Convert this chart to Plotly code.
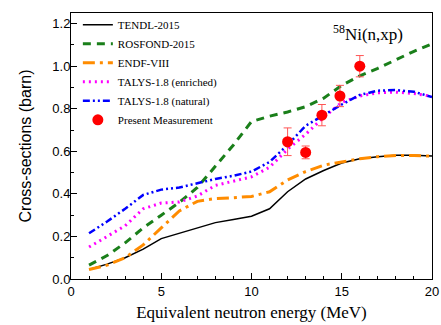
import plotly.graph_objects as go

energy = [1, 2, 3, 4, 5, 6, 7, 8, 9, 10, 11, 12, 13, 14, 15, 16, 17, 18, 19, 20]
tendl = [0.045, 0.07, 0.10, 0.14, 0.19, 0.215, 0.24, 0.265, 0.28, 0.295, 0.33, 0.41, 0.47, 0.51, 0.545, 0.565, 0.575, 0.582, 0.582, 0.578]
rosfond = [0.065, 0.11, 0.17, 0.24, 0.30, 0.36, 0.43, 0.53, 0.63, 0.74, 0.765, 0.785, 0.81, 0.85, 0.91, 0.955, 0.99, 1.03, 1.07, 1.105]
endf = [0.045, 0.065, 0.10, 0.16, 0.24, 0.32, 0.365, 0.378, 0.382, 0.388, 0.41, 0.465, 0.505, 0.535, 0.55, 0.565, 0.575, 0.58, 0.58, 0.577]
talys_enr = [0.15, 0.20, 0.25, 0.33, 0.357, 0.362, 0.39, 0.44, 0.46, 0.48, 0.525, 0.61, 0.68, 0.76, 0.83, 0.86, 0.875, 0.878, 0.872, 0.858]
talys_nat = [0.215, 0.27, 0.33, 0.395, 0.42, 0.43, 0.45, 0.47, 0.485, 0.505, 0.55, 0.63, 0.72, 0.77, 0.82, 0.865, 0.885, 0.888, 0.88, 0.855]

meas_e = [12.0, 13.0, 13.9, 14.9, 16.0]
meas_xs = [0.645, 0.595, 0.77, 0.86, 1.0]
meas_err = [0.065, 0.03, 0.05, 0.05, 0.05]

serif = "Liberation Serif"
sans = "Liberation Sans"

fig = go.Figure()
fig.add_trace(go.Scatter(x=energy, y=tendl, mode="lines", name="TENDL-2015",
                         line=dict(color="black", width=1.5)))
fig.add_trace(go.Scatter(x=energy, y=rosfond, mode="lines", name="ROSFOND-2015",
                         line=dict(color="#1a7f1a", width=3, dash="8px,6px")))
fig.add_trace(go.Scatter(x=energy, y=endf, mode="lines", name="ENDF-VIII",
                         line=dict(color="#ff8c00", width=3, dash="12px,5px,3px,5px")))
fig.add_trace(go.Scatter(x=energy, y=talys_enr, mode="lines", name="TALYS-1.8 (enriched)",
                         line=dict(color="#ff00ff", width=3, dash="2px,4px")))
fig.add_trace(go.Scatter(x=energy, y=talys_nat, mode="lines", name="TALYS-1.8 (natural)",
                         line=dict(color="#0000ff", width=2.5, dash="7px,3px,2px,3px,2px,3px")))
fig.add_trace(go.Scatter(x=meas_e, y=meas_xs, mode="markers", name="Present Measurement",
                         marker=dict(color="#ff0000", size=11),
                         error_y=dict(type="data", array=meas_err, color="#ff5555",
                                      thickness=1, width=4)))

fig.add_annotation(x=0.925, y=0.925, xref="paper", yref="paper", xanchor="right", yanchor="middle",
                   text="<sup>58</sup>Ni(n,xp)", showarrow=False,
                   font=dict(family=serif, size=17, color="black"))

axis_common = dict(showline=True, linecolor="black", linewidth=1, mirror=True,
                   ticks="inside", ticklen=6, tickcolor="black", showgrid=False,
                   zeroline=False, automargin=False,
                   tickfont=dict(family=sans, size=13, color="black"))

fig.update_layout(
    width=441, height=325,
    margin=dict(l=71, r=9, t=13, b=46),
    paper_bgcolor="white", plot_bgcolor="white",
    showlegend=True,
    legend=dict(x=0.019, y=1.01, xanchor="left", yanchor="top", bgcolor="rgba(0,0,0,0)",
                font=dict(family=serif, size=11, color="black"), tracegroupgap=0,
                itemwidth=30),
    xaxis=dict(range=[0, 20], tickvals=[0, 5, 10, 15, 20],
               minor=dict(ticks="inside", ticklen=3, tickcolor="black", dtick=1, showgrid=False),
               title=dict(text="Equivalent neutron energy (MeV)", standoff=8,
                          font=dict(family=serif, size=17, color="black")),
               **axis_common),
    yaxis=dict(range=[0, 1.25], tickvals=[0, 0.2, 0.4, 0.6, 0.8, 1.0, 1.2], tickformat=".1f",
               ticklabelstandoff=-3,
               minor=dict(ticks="inside", ticklen=3, tickcolor="black", dtick=0.1, showgrid=False),
               title=dict(text="Cross-sections (barn)", standoff=16,
                          font=dict(family=sans, size=16, color="black")),
               **axis_common),
)

fig.write_html("out.html", config={"displayModeBar": False})
with open("out.html", encoding="utf-8") as f:
    html = f.read()
html = html.replace("<head>", "<head><style>html,body{margin:0;padding:0;overflow:hidden;}</style>", 1)
with open("out.html", "w", encoding="utf-8") as f:
    f.write(html)
